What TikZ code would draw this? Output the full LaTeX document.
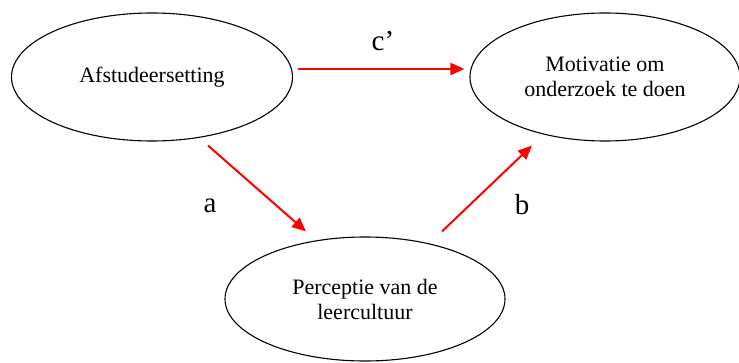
\documentclass[tikz,border=0pt]{standalone}
\usepackage{fontspec}
\setmainfont{Liberation Serif}
\usetikzlibrary{shapes.geometric,arrows.meta}
\begin{document}
\begin{tikzpicture}[x=1pt,y=-1pt,
  oval/.style={ellipse,draw=black,line width=1.1pt,inner sep=0pt,align=center,
    font=\fontsize{22}{25}\selectfont},
  arr/.style={draw=red,line width=2pt,-{Triangle[length=14pt,width=12pt]}},
  lab/.style={font=\fontsize{29}{30}\selectfont}]
\useasboundingbox (0,0) rectangle (739,363);
\node[oval,minimum width=281pt,minimum height=128pt] (e1) at (152,77) {Afstudeersetting};
\node[oval,minimum width=270pt,minimum height=128pt] (e2) at (605,77) {Motivatie om\\onderzoek te doen};
\node[oval,minimum width=280pt,minimum height=124pt] (e3) at (365,299) {Perceptie van de\\leercultuur};
\draw[arr] ([xshift=5pt,yshift=8pt]e1.east) -- ([xshift=-5pt,yshift=8pt]e2.west);
\draw[arr] ([xshift=56pt,yshift=-4pt]e1.south) -- ([xshift=-59pt,yshift=5pt]e3.north);
\draw[arr] ([xshift=77pt,yshift=5pt]e3.north) -- ([xshift=-73pt,yshift=-4pt]e2.south);
\node[lab] (lc) at (383,41) {c’};
\node[lab] (la) at (210,206) {a};
\node[lab] (lb) at (522,205) {b};
\end{tikzpicture}
\end{document}
